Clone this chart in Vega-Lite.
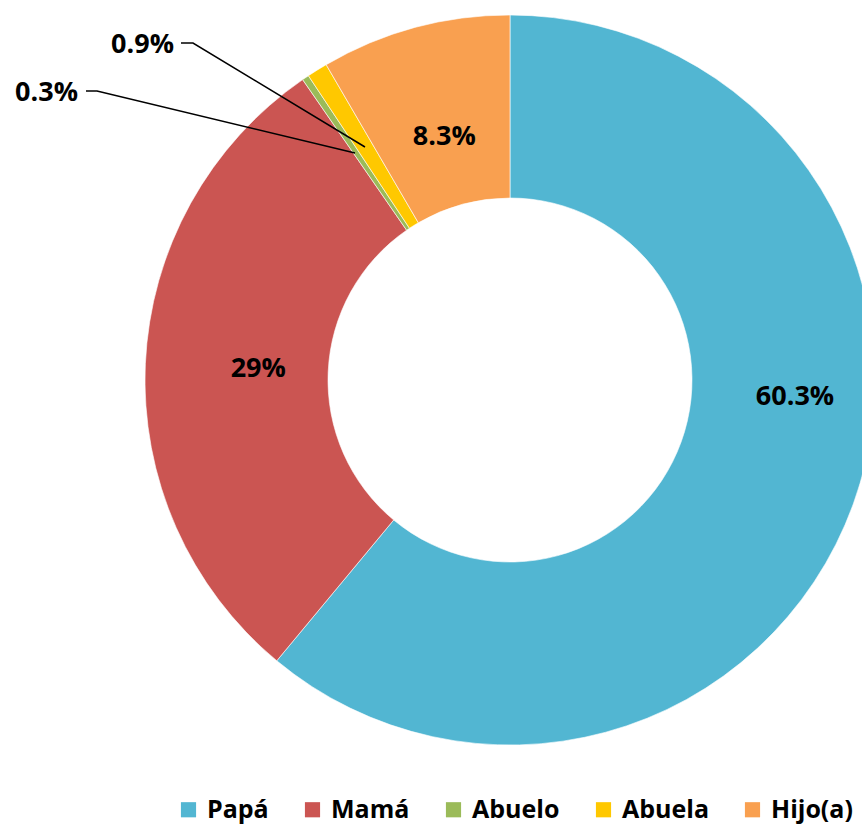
{
  "$schema": "https://vega.github.io/schema/vega-lite/v6.json",
  "width": 862,
  "height": 830,
  "padding": 0,
  "autosize": "none",
  "background": "white",
  "config": {"view": {"stroke": null}, "font": "Open Sans"},
  "datasets": {
    "main": [
      {"category": "Papá", "value": 60.3, "order": 1, "label": "60.3%"},
      {"category": "Mamá", "value": 29, "order": 2, "label": "29%"},
      {"category": "Abuelo", "value": 0.3, "order": 3, "label": "0.3%"},
      {"category": "Abuela", "value": 0.9, "order": 4, "label": "0.9%"},
      {"category": "Hijo(a)", "value": 8.3, "order": 5, "label": "8.3%"}
    ],
    "labels": [
      {"label": "60.3%", "x": 285, "y": -17, "align": "center"},
      {"label": "0.9%", "x": -336, "y": 335, "align": "right"},
      {"label": "0.3%", "x": -432, "y": 287, "align": "right"}
    ],
    "leaders": [
      {"line": "a", "step": 1, "x": -329, "y": 337},
      {"line": "a", "step": 2, "x": -317, "y": 337},
      {"line": "a", "step": 3, "x": -145, "y": 233},
      {"line": "b", "step": 1, "x": -424, "y": 289},
      {"line": "b", "step": 2, "x": -413, "y": 289},
      {"line": "b", "step": 3, "x": -155, "y": 227}
    ]
  },
  "layer": [
    {
      "data": {"name": "main"},
      "mark": {"type": "arc", "outerRadius": 365, "innerRadius": 182, "stroke": "#ffffff", "strokeWidth": 0.6},
      "encoding": {
        "x": {"datum": 0, "type": "quantitative", "scale": {"domain": [-510, 352], "nice": false, "zero": false}, "axis": null},
        "y": {"datum": 0, "type": "quantitative", "scale": {"domain": [-450, 380], "nice": false, "zero": false}, "axis": null},
        "theta": {"field": "value", "type": "quantitative", "stack": true},
        "order": {"field": "order", "type": "quantitative"},
        "color": {
          "field": "category",
          "type": "nominal",
          "sort": ["Papá", "Mamá", "Abuelo", "Abuela", "Hijo(a)"],
          "scale": {
            "domain": ["Papá", "Mamá", "Abuelo", "Abuela", "Hijo(a)"],
            "range": ["#52B6D2", "#CB5552", "#9BBB59", "#FFC800", "#F9A050"]
          },
          "legend": {
            "title": null,
            "orient": "none",
            "direction": "horizontal",
            "legendX": 176,
            "legendY": 797,
            "symbolType": "square",
            "symbolSize": 230,
            "symbolStrokeWidth": 0,
            "symbolOpacity": 1,
            "labelFont": "Open Sans",
            "labelFontSize": 25,
            "labelFontWeight": "bold",
            "labelColor": "#000000",
            "labelOffset": 6,
            "columnPadding": 31,
            "labelLimit": 200
          }
        }
      }
    },
    {
      "data": {"name": "main"},
      "mark": {"type": "text", "radius": 252, "font": "Open Sans", "fontSize": 27, "fontWeight": "bold", "color": "#000000", "align": "center", "baseline": "middle"},
      "encoding": {
        "x": {"datum": 0, "type": "quantitative"},
        "y": {"datum": 0, "type": "quantitative"},
        "theta": {"field": "value", "type": "quantitative", "stack": true},
        "order": {"field": "order", "type": "quantitative"},
        "text": {"field": "label"},
        "opacity": {
          "condition": {"test": "datum.category === 'Mamá' || datum.category === 'Hijo(a)'", "value": 1},
          "value": 0
        }
      }
    },
    {
      "data": {"name": "leaders"},
      "mark": {"type": "line", "color": "#000000", "strokeWidth": 1.5},
      "encoding": {
        "x": {"field": "x", "type": "quantitative"},
        "y": {"field": "y", "type": "quantitative"},
        "detail": {"field": "line"},
        "order": {"field": "step"}
      }
    },
    {
      "data": {"name": "labels"},
      "transform": [{"filter": "datum.align === 'right'"}],
      "mark": {"type": "text", "font": "Open Sans", "fontSize": 27, "fontWeight": "bold", "color": "#000000", "align": "right", "baseline": "middle"},
      "encoding": {
        "x": {"field": "x", "type": "quantitative"},
        "y": {"field": "y", "type": "quantitative"},
        "text": {"field": "label"}
      }
    },
    {
      "data": {"name": "labels"},
      "transform": [{"filter": "datum.align === 'center'"}],
      "mark": {"type": "text", "font": "Open Sans", "fontSize": 27, "fontWeight": "bold", "color": "#000000", "align": "center", "baseline": "middle"},
      "encoding": {
        "x": {"field": "x", "type": "quantitative"},
        "y": {"field": "y", "type": "quantitative"},
        "text": {"field": "label"}
      }
    }
  ]
}
